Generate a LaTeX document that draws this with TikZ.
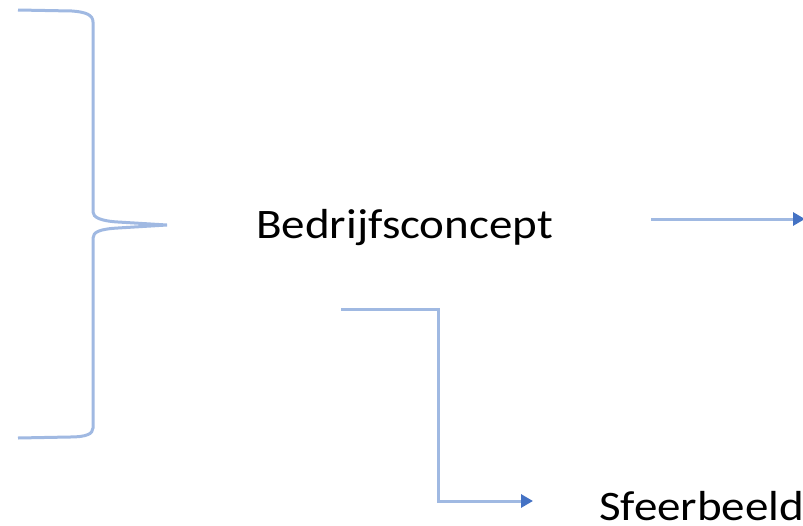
\documentclass[tikz,border=0pt]{standalone}
\usepackage{fontspec}
\setmainfont{Carlito}[FakeStretch=1.12]
\usetikzlibrary{arrows.meta, positioning}
\definecolor{lineblue}{RGB}{160,185,226}
\definecolor{tipblue}{RGB}{68,114,196}

\begin{document}
\begin{tikzpicture}[
    x=1pt, y=-1pt,
    font=\fontsize{42}{50}\selectfont,
    link/.style={draw=lineblue, line width=3pt},
    flow/.style={link, -{Triangle[length=12pt, width=13pt, color=tipblue, fill=tipblue]}}
]
    % --- canvas ---
    \useasboundingbox (0,0) rectangle (803,525);

    % --- The brace ---
    \draw[link] (18,10) -- (72,11) .. controls (86,12) and (93,15) .. (93,22)
        -- (93,212) .. controls (93,217) and (100,221) .. (118,222) -- (167,225)
        -- (118,228) .. controls (100,229) and (93,232) .. (93,238)
        -- (93,428) .. controls (93,434) and (86,437) .. (70,437) -- (18,438);

    % --- Text nodes ---
    \node[anchor=base west, inner sep=0pt] (concept) at (256,238) {Bedrijfsconcept};
    \node[anchor=base west, inner sep=0pt] (sfeer) at (599,520) {Sfeerbeeld};

    % --- Connectors ---
    \coordinate (conceptout) at (651,219);
    \coordinate (rightend) at (805,219);
    \coordinate (conceptdown) at (341,309);
    \coordinate (sfeerin) at (533,501);
    \draw[flow] (conceptout) -- (rightend);
    \draw[flow] (conceptdown) -| ([xshift=97pt]conceptdown |- sfeerin) -- (sfeerin);
\end{tikzpicture}
\end{document}
